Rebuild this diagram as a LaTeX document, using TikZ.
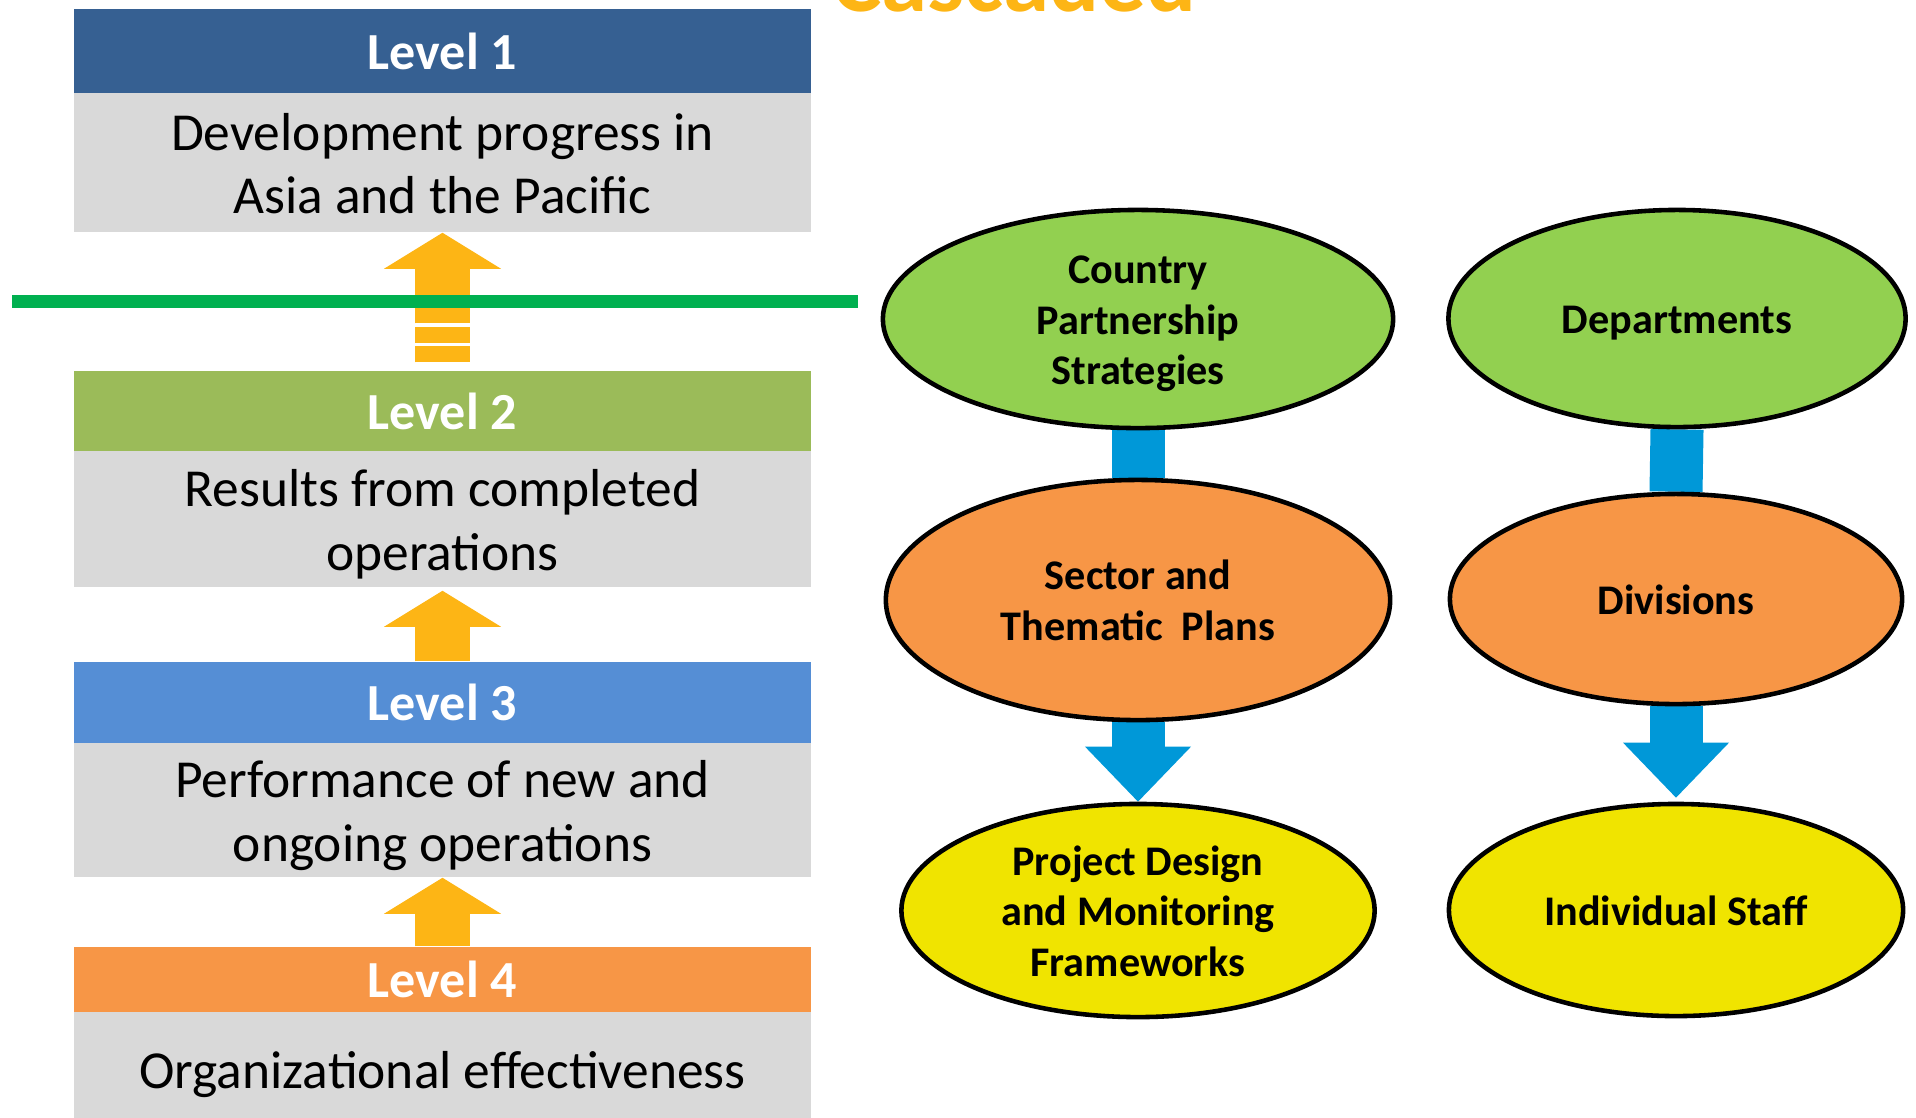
\documentclass[tikz,border=0pt]{standalone}
\usepackage{fontspec}
\setmainfont{Carlito}
\usetikzlibrary{shapes.geometric,arrows.meta,backgrounds}

\definecolor{lvlone}{RGB}{54,96,146}
\definecolor{lvltwo}{RGB}{155,187,89}
\definecolor{lvlthree}{RGB}{85,142,213}
\definecolor{lvlfour}{RGB}{247,150,70}
\definecolor{bodygray}{RGB}{217,217,217}
\definecolor{arrowyellow}{RGB}{253,181,21}
\definecolor{linegreen}{RGB}{0,176,80}
\definecolor{ovalgreen}{RGB}{146,208,80}
\definecolor{ovalorange}{RGB}{247,150,70}
\definecolor{ovalyellow}{RGB}{240,228,0}
\definecolor{arrowblue}{RGB}{0,152,216}

% fixed top height / bottom depth so the texts sit alike
\newcommand{\lvltop}{\rule{0pt}{15pt}}
\newcommand{\lvlbot}{\rule[-4pt]{0pt}{4pt}}
\newcommand{\ovaltop}{\rule{0pt}{11.7pt}}
\newcommand{\ovalbot}{\rule[-3pt]{0pt}{3pt}}

\begin{document}
\begin{tikzpicture}[x=0.01cm,y=-0.01cm,
  head/.style={minimum width=7.37cm,inner sep=0pt,text=white,font=\fontsize{14.8}{18}\selectfont\bfseries},
  body/.style={fill=bodygray,minimum width=7.37cm,inner sep=0pt,align=center,font=\fontsize{15.2}{18.1}\selectfont},
  oval/.style={ellipse,draw=black,line width=1.3pt,inner sep=-5pt,align=center,font=\fontsize{12}{14.4}\selectfont\bfseries},
  uparrow/.style={draw=arrowyellow,line width=0.55cm,-{Triangle[width=1.17cm,length=0.36cm,line width=0pt]}},
  downshaft/.style={draw=arrowblue,line width=0.53cm},
  downarrow/.style={downshaft,-{Triangle[width=1.06cm,length=0.55cm,line width=0pt]}}]
\useasboundingbox (0,0) rectangle (1916,1117);

% title, cut off at the top
\node[anchor=base,text=arrowyellow,font=\fontsize{26.5}{30}\selectfont\bfseries] (title) at (1014,11) {Cascaded};

% levels
\node[head,fill=lvlone,minimum height=0.84cm] (head1) at (442.5,51) {Level 1};
\node[body,minimum height=1.39cm] (body1) at (442.5,162.5) {\lvltop Development progress in\\Asia and the Pacific\lvlbot};
\node[head,fill=lvltwo,minimum height=0.80cm] (head2) at (442.5,411) {Level 2};
\node[body,minimum height=1.36cm] (body2) at (442.5,519) {\lvltop Results from completed\\operations\lvlbot};
\node[head,fill=lvlthree,minimum height=0.81cm] (head3) at (442.5,702.5) {Level 3};
\node[body,minimum height=1.34cm] (body3) at (442.5,810) {\lvltop Performance of new and\\ongoing operations\lvlbot};
\node[head,fill=lvlfour,minimum height=0.65cm] (head4) at (442.5,979.5) {Level 4};
\node[body,minimum height=1.14cm] (body4) at (442.5,1069) {\lvltop Organizational effectiveness\lvlbot};

% arrows between levels
\coordinate (lineL) at (12,301.5);
\coordinate (lineR) at (858,301.5);
\coordinate (cut) at (442.5,301.5);
\draw[draw=arrowyellow,line width=0.55cm,dash pattern=on 0.16cm off 0.035cm] ([yshift=0.08cm]head2.north) -- (cut);
\draw[uparrow] (cut) -- (body1.south);
\draw[draw=linegreen,line width=0.13cm] (lineL) -- (lineR);
\draw[uparrow,shorten >=0.03cm] (head3.north) -- (body2.south);
\draw[uparrow] (head4.north) -- (body3.south);

% cascade
\node[oval,fill=ovalgreen,minimum width=5.10cm,minimum height=2.18cm] (cps) at (1138,319) {\ovaltop Country\\Partnership\\Strategies\ovalbot};
\node[oval,fill=ovalgreen,minimum width=4.57cm,minimum height=2.17cm] (dept) at (1677,318.5) {\ovaltop Departments\ovalbot};
\node[oval,fill=ovalorange,minimum width=5.04cm,minimum height=2.40cm] (sector) at (1138,600) {\ovaltop Sector and\\Thematic\ \ Plans\ovalbot};
\node[oval,fill=ovalorange,minimum width=4.52cm,minimum height=2.10cm] (div) at (1676,599) {\ovaltop Divisions\ovalbot};
\node[oval,fill=ovalyellow,minimum width=4.73cm,minimum height=2.13cm] (project) at (1138,910.5) {\ovaltop Project Design\\and Monitoring\\Frameworks\ovalbot};
\node[oval,fill=ovalyellow,minimum width=4.54cm,minimum height=2.12cm] (staff) at (1676,910) {\ovaltop Individual Staff\ovalbot};

\begin{scope}[on background layer]
\draw[downshaft] (cps.south) -- (sector.north);
\draw[downshaft] (dept.south) -- (div.north);
\draw[downarrow] (sector.south) -- (project.north);
\draw[downarrow,shorten >=0.04cm] (div.south) -- (staff.north);
\end{scope}
\end{tikzpicture}
\end{document}
